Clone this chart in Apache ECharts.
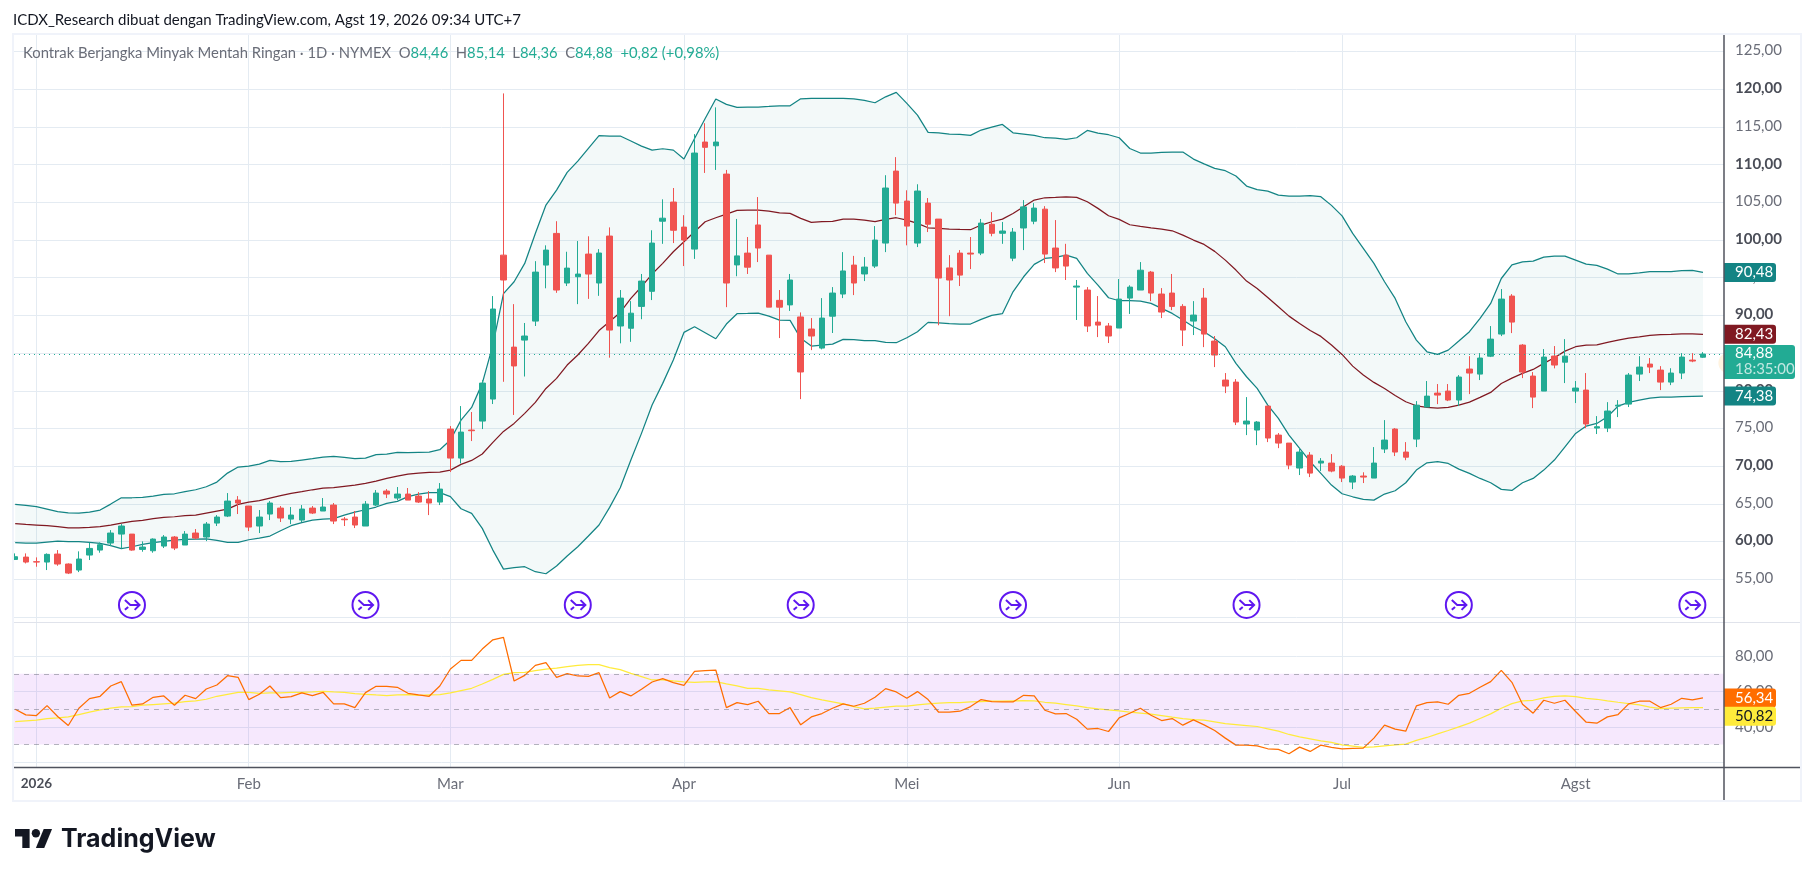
<!DOCTYPE html>
<html><head><meta charset="utf-8">
<style>html,body{margin:0;padding:0;background:#fff}#c{width:1814px;height:877px}</style>
<script src="https://cdn.jsdelivr.net/npm/echarts@6/dist/echarts.min.js"></script>
</head><body><div id="c"></div>
<script>
const FONT = 'Lato, "Noto Sans", sans-serif';
const titleText = 'ICDX_Research dibuat dengan TradingView.com, Agst 19, 2026 09:34 UTC+7';
const symbolName = 'Kontrak Berjangka Minyak Mentah Ringan · 1D · NYMEX';
const monthTickIndex = [2,22,41,63,84,104,125,147];
const monthTickLabels = ['2026','Feb','Mar','Apr','Mei','Jun','Jul','Agst'];
const priceLabels = [55,60,65,70,75,80,85,90,95,100,105,110,115,120,125];
const priceGrid = [50,55,60,65,70,75,80,85,90,95,100,105,110,115,120,125];
const rsiLabels = [40,60,80];
const rsiGrid = [20,40,60,80];
const rollIndex = [11,33,53,74,94,116,136,158];
const rollLevel = 51.6;
const lastPrice = 84.88;
// open, close, low, high
const candles = [
[57.64,58.0,57.56,58.44],[57.95,57.29,57.11,58.44],[57.34,57.29,56.67,57.91],[57.29,58.31,56.23,58.44],[58.35,57.03,56.8,58.88],
[57.03,55.83,55.7,57.11],[56.23,57.69,55.96,58.71],[58.22,59.1,57.56,59.86],[58.88,59.59,58.53,59.9],[59.81,61.14,59.41,61.53],
[61.0,62.07,59.1,62.33],[61.0,58.88,58.79,61.0],[58.97,59.28,58.66,60.03],[58.79,60.34,58.53,60.43],[59.41,60.61,59.15,60.87],
[60.61,59.15,58.88,60.74],[59.55,61,59.55,61.4],[61.14,60.47,60.3,61.67],[60.61,62.33,60.07,62.6],[62.46,63.26,62.07,63.52],
[63.39,65.38,63.26,66.44],[65.51,65.12,63.66,66.04],[64.72,61.93,61.4,64.72],[62.07,63.26,61.14,64.19],[63.66,65.12,62.86,65.38],
[64.45,63.13,62.6,64.72],[62.99,63.52,62.33,64.59],[62.86,64.32,62.6,64.85],[64.45,63.79,63.66,64.72],[64.06,64.59,64.06,65.78],
[64.85,62.73,62.33,65.12],[62.99,62.9,62.07,63.26],[63.26,62.2,61.8,64.06],[62.07,64.98,62.07,65.38],[64.85,66.44,64.72,66.84],
[66.71,66.31,65.78,66.97],[65.78,66.31,65.51,67.24],[66.31,65.51,65.51,67.11],[66.04,65.25,65.12,66.57],[65.65,65.12,63.52,66.71],
[65.25,66.97,64.85,67.77],[74.93,71.08,69.23,75.33],[71.08,74.53,70.38,77.98],[74.8,74.71,73.34,77.19],[75.99,81.03,74.93,81.43],
[78.91,90.85,78.25,92.57],[98.0,94.7,81.2,119.45],[85.8,83.3,76.8,91.5],[86.73,87.27,81.9,89],[89.25,95.75,88.6,97.2],
[96.68,98.67,93.6,99.3],[100.88,93.37,93,102.5],[94.3,96.28,93.9,98.45],[95.14,95.49,91.5,99.87],[98.14,95.49,92.2,100.5],
[94.3,98.28,92.6,98.8],[100.53,88.06,84.4,101.68],[88.6,92.3,86.3,93.37],[88.3,90.3,86.5,91.9],[91.2,94.56,89.5,95.5],
[93.2,99.6,92.04,101.3],[102.5,102.9,99.5,105.4],[105.04,101.3,99.6,106.9],[101.72,100,96.55,103.3],[98.8,111.54,97.5,114.05],
[113,112.3,108.9,115.5],[112.5,113,109.3,117.6],[108.75,94.3,91.1,109.3],[96.7,97.9,95.2,102.8],[98.27,96.4,95.5,100.4],
[102,98.94,97.08,105.7],[98,91.1,91.1,98],[92,91.1,87,93.37],[91.4,94.7,90.6,95.5],[89.8,82.5,78.9,90.4],
[88.2,87.27,85.4,89.65],[85.67,89.65,85.5,92.3],[89.9,92.97,87.67,93.76],[92.84,95.9,92.3,98.4],[96.68,94.3,92.7,97.9],
[95.5,96.42,94.56,97.74],[96.55,100,96.3,101.85],[99.6,106.9,98.4,108.6],[109.15,104.9,103.3,111],[105.17,101.85,99.3,106.6],
[99.6,106.5,99.07,107.4],[104.9,102.1,101.06,105.57],[102.78,94.96,88.7,102.78],[96.3,94.7,89.9,98],[98.27,95.35,93.9,98.67],
[98.27,98.14,96.15,100.4],[98.27,102.25,98,102.8],[102.1,100.9,100.5,103.7],[100.9,101.2,99.5,102.4],[97.6,101.06,97.2,101.6],
[101.6,104.4,98.67,105.3],[102.5,104.24,102.1,104.9],[104.1,98.14,96.95,104.5],[98.94,96.3,95.75,102.65],[98,96.55,94.7,99.5],
[93.76,93.9,89.4,94.7],[93.37,88.6,87.8,93.76],[89.12,88.72,87.13,92.57],[88.6,87.27,86.34,89],[88.33,92.17,88.33,94.83],
[92.3,93.76,90.2,94],[93.37,96,93.37,97.08],[95.75,92.97,91.9,95.9],[92.84,90.45,89.65,93.63],[92.97,91.2,90.7,95.5],
[91.2,88.06,85.94,91.5],[89.25,90.05,87.4,91.9],[92.3,87.53,85.8,93.63],[86.6,84.75,83.15,87.27],[81.43,80.63,79.7,82.36],
[81.16,75.86,75.46,81.56],[75.6,75.99,74.13,79.17],[74.8,75.86,72.8,75.99],[77.98,73.74,73.2,77.98],[74.13,73.07,72.4,74.4],
[73.07,70.15,69.6,73.07],[69.76,71.88,68.83,72.4],[71.48,69.09,68.56,71.88],[70.42,70.68,69.36,71.08],[70.42,69.36,69.2,71.61],
[70,68.43,67.9,70.15],[67.9,68.7,66.97,68.83],[68.7,68.56,67.77,69.2],[68.43,70.42,68.43,72.54],[72.28,73.47,71.75,76.12],
[74.93,71.88,71.35,75.06],[71.88,71.2,70.8,73.2],[73.6,78.1,72.54,78.64],[77.85,79.3,77.85,81.3],[79.7,79.44,78.24,80.9],
[79.97,78.78,78.64,80.9],[78.78,81.83,77.98,82.09],[82.89,82.36,79.57,84.6],[82.22,84.35,81.43,85],[84.6,86.86,84.48,88.59],
[87.53,92.17,87.26,93.5],[92.57,89.12,87.66,92.83],[86.07,82.49,81.69,86.2],[81.96,79.17,77.71,82.49],[79.97,84.48,79.97,85.54],
[84.61,83.42,82.98,85.94],[83.8,84.6,81.03,86.86],[79.97,80.37,78.38,81.3],[80.1,75.6,75.06,82.36],[75.06,75.24,74.27,76.65],
[75.06,77.32,74.53,78.5],[77.98,78.1,76.52,78.77],[78.24,82.09,77.85,82.36],[82.22,83.15,81.3,84.6],[83.55,83.15,82.36,84.35],
[82.75,81.16,80.1,83.28],[81.16,82.36,80.76,83],[82.36,84.48,81.56,85],[84.08,83.95,83.8,85],[84.46,84.88,84.36,85.14]
];
const upperBand = [64.94,64.81,64.63,64.32,63.97,63.83,63.79,63.92,64.19,64.98,65.82,65.82,65.87,66.04,66.27,66.35,66.62,66.88,67.28,67.9,69.09,69.89,70.02,70.29,70.77,70.6,70.64,70.82,71,71.22,71.31,71.17,71,71.08,71.53,71.62,71.84,71.79,71.84,71.88,72.19,73.47,76.12,77.8,80.99,86.07,92.9,94.47,96.9,100.88,104.64,106.63,108.97,110.47,112.16,113.84,113.8,113.8,113.13,112.46,111.93,112.11,111.93,110.74,113.48,116.13,118.7,117.99,117.59,117.64,117.64,117.72,117.81,117.81,118.74,118.79,118.79,118.79,118.79,118.74,118.52,118.21,119,119.58,118.12,116.58,114.28,114.23,114.06,114.01,113.88,114.59,114.98,115.34,114.23,114.06,113.88,113.57,113.52,113.35,113.57,114.54,114.19,113.97,113.57,112.15,111.54,111.54,111.62,111.67,111.67,110.74,110.1,109.5,109.2,108.5,107.16,106.7,106.5,105.97,105.84,105.84,105.9,105.75,104.6,103.2,100.88,98.9,96.9,94.47,92.26,89.16,86.73,85.18,84.83,85.4,86.6,87.84,89.6,91.6,94.9,96.7,97.1,97.2,97.74,97.87,97.87,97.34,96.8,96.63,96.15,95.5,95.53,95.66,95.8,95.8,95.8,95.93,95.97,95.7];
const middleBand = [62.4,62.29,62.2,62.11,61.98,61.84,61.84,61.89,61.98,62.2,62.46,62.68,62.82,63.04,63.22,63.3,63.44,63.52,63.79,64.06,64.32,64.94,65.25,65.43,65.78,66.09,66.4,66.62,66.88,67.11,67.15,67.33,67.5,67.72,68.03,68.39,68.7,68.96,69.09,69.18,69.23,69.49,70.24,70.77,71.62,73.16,74.62,75.68,77.01,78.47,80.32,81.65,83.42,84.75,86.29,88.0,89.2,90.4,92.26,93.81,95.49,96.9,98.45,99.78,101.1,102.43,102.96,103.45,103.93,103.98,103.98,103.84,103.62,103.53,102.87,102.34,102.43,102.47,102.78,102.78,102.65,102.43,102.74,102.96,102.65,102.21,101.63,101.54,101.46,101.41,101.37,101.99,102.43,102.78,103.53,104.42,105.3,105.61,105.66,105.74,105.66,105.08,104.2,103.22,102.74,102.03,101.81,101.63,101.46,101.23,100.66,100,99.42,98.5,97.34,96.02,94.56,93.58,92.39,91.15,89.91,88.94,88.01,87.22,86.07,84.83,83.28,82.09,81.12,80.32,79.39,78.55,78.02,77.8,77.71,77.8,78.11,78.51,79.13,79.79,80.98,81.69,82.31,82.84,83.64,84.39,85.27,85.85,86.07,86.11,86.42,86.73,87,87.17,87.35,87.44,87.48,87.57,87.57,87.48];
const lowerBand = [59.86,59.81,59.81,59.94,60.07,59.99,59.99,59.9,59.77,59.46,59.06,59.32,59.63,59.86,60.03,60.21,60.3,60.34,60.38,60.17,59.9,59.9,60.25,60.47,60.74,61.45,62.11,62.51,62.86,62.99,63.04,63.52,63.92,64.23,64.59,65.07,65.34,65.96,66.31,66.49,66.49,65.96,64.36,63.75,61.76,58.88,56.36,56.54,56.67,56.01,55.74,56.76,58.09,59.32,60.74,62.2,64.54,67.15,70.82,74.36,78.11,80.99,84.08,87.75,88.5,87.71,86.91,88.86,90.23,90.27,90.32,89.92,89.39,89.34,86.96,85.94,86.07,86.2,86.82,86.78,86.65,86.65,86.43,86.38,87.04,87.84,89.08,89.03,88.9,88.86,88.86,89.48,90.01,90.23,93.14,95.13,96.77,97.56,97.7,98.01,97.56,95.58,94.03,92.35,91.95,91.95,91.91,91.6,90.93,90.27,89.39,88.5,87.84,86.9,85.85,83.64,81.87,80.32,78.11,76.34,74.13,72.36,70.6,69.05,67.5,66.35,65.95,65.6,65.51,66.31,66.75,67.81,69.49,70.46,70.6,70.37,69.62,69.05,68.38,67.81,66.93,66.79,67.81,68.38,69.49,70.82,72.58,74.35,75.33,75.68,76.56,77.98,78.46,78.77,79.04,79.17,79.17,79.22,79.26,79.3];
const rsiLine = [49.94,46.74,46.36,52.0,45.8,40.71,50.5,55.96,57.28,63.12,65.57,52.2,52.95,56.72,57.47,52.2,57.85,55.96,61.42,63.68,68.96,68.01,55.4,58.41,63.12,56.53,57.09,59.16,57.66,59.54,52.95,52.95,50.88,59.35,62.93,62.93,62.37,58.98,58.03,57.28,63.12,72.72,77.62,77.62,84.02,89.29,90.61,65.94,69.14,74.79,76.3,68.01,70.09,68.77,68.58,70.65,56.34,59.92,57.47,61.24,65.38,67.26,65,63.5,71.4,71.78,72.16,50.88,53.7,52.57,54.46,47.49,47.49,50.88,41.09,45.6,47.49,50.5,52.95,51.63,53.33,56.72,61.61,59.73,56.15,59.92,55.4,48.24,48.24,48.81,51.44,55.4,54.27,54.08,54.08,57.85,57.47,49.37,47.3,47.49,44.29,38.64,39.02,37.32,45.04,47.68,50.5,46.55,43.53,44.66,40.9,43.91,41.09,37.89,33.56,29.6,29.6,29.22,27.53,27.15,24.7,28.47,26.02,29.6,28.28,27.53,27.72,27.91,33.56,40.9,38.64,37.51,51.82,53.7,54.08,52.76,57.85,58.98,62.37,65.57,71.97,65.19,52.76,47.68,55.02,53.33,55.02,48.62,42.59,42.03,45.6,46.92,52.95,54.46,54.46,50.88,52.76,56.15,55.21,56.34];
const rsiAverage = [42.97,43.35,43.72,44.66,45.04,45.6,46.92,48.24,49.56,50.5,51.26,51.44,52.2,52.57,52.95,53.33,54.27,54.65,55.59,57.28,58.41,59.54,59.54,58.98,59.16,59.16,59.54,59.54,59.73,60.11,59.73,59.54,58.79,58.41,58.03,57.66,58.03,58.22,57.85,58.03,58.22,59.16,60.48,61.8,64.25,66.88,69.71,70.65,70.84,71.78,72.72,73.29,74.04,74.79,75.17,75.17,73.47,72.35,70.27,68.39,66.51,66.51,65.94,65.38,65.19,65.38,65.57,64.25,63.12,61.8,61.8,60.86,60.29,59.73,58.22,56.53,55.21,54.08,52.95,51.44,50.13,50.5,51.07,51.63,51.63,52.39,52.95,53.33,53.7,53.7,54.08,54.27,54.46,54.46,54.65,54.83,54.65,53.89,53.33,52.57,51.82,50.88,50.13,49.56,49,48.24,47.68,47.11,46.36,45.42,44.66,44.1,43.72,42.78,41.84,41.28,40.71,40.15,38.83,37.51,35.63,34.31,33.18,32.05,31.11,29.79,29.04,28.28,28.66,29.22,29.79,30.17,32.24,33.93,36,37.89,39.96,42.03,44.66,47.3,50.5,53.14,54.65,55.02,56.34,57.28,57.47,57.09,56.15,55.59,54.65,53.89,53.14,52.39,51.07,50.31,50.5,50.69,50.88,50.82];
const bandTags = [['90,48',95.7],['82,43',87.5],['74,38',79.3]];
const lastTag = ['84,88','18:35:00'];
const rsiTags = [['56,34',56.34],['50,82',50.82]];

const XMIN = -0.113, XMAX = 160.98;
const GRID = '#e4ebf2', AXIS = '#50535e', LBL = '#6a6d78', LBLB = '#4a4d57';
const UP = '#22ab94', DOWN = '#f05350', TEAL = '#138484', MAROON = '#801922', ORANGE = '#ff6d00', YELLOW = '#ffeb3b';
const comma = v => v.toFixed(2).replace('.', ',');
const indexed = a => a.map((v,i) => [i,v]);
const ICON = 'path://M13 1a12 12 0 1 0 0.01 0z M6.5 8.5 L11.5 13 H20 M15.5 8.5 L20 13 L15.5 17.5 M6.5 17.5 L9.5 14.8';
const LW = 1.25;

function tag(api, val, text, bg, fg, h, dy, w) {
  const p = api.coord([XMAX, val]);
  const x = Math.round(p[0]), y = p[1] + dy;
  return {type:'group', children:[
    {type:'rect', shape:{x, y:y-h/2, width:w, height:h, r:[0,3,3,0]}, style:{fill:bg}},
    {type:'text', x:x+11, y:y, style:{text, fill:fg, font:`15px ${FONT}`, verticalAlign:'middle', textVerticalAlign:'middle'}}
  ]};
}

const glow = [];
for (let a = 118; a <= 242; a += 4) glow.push([1729 + 10.6*Math.cos(a*Math.PI/180), 363 + 10.6*Math.sin(a*Math.PI/180)]);

const chart = echarts.init(document.getElementById('c'), null, {renderer:'canvas'});
const xAxisCommon = {
  type:'value', min:XMIN, max:XMAX, axisLine:{show:false},
  axisTick:{show:false, customValues:monthTickIndex},
  splitLine:{show:true, lineStyle:{color:GRID, width:1}}
};
chart.setOption({
  animation:false,
  backgroundColor:'#fff',
  textStyle:{fontFamily:FONT},
  grid:[
    {left:14, top:34, width:1710, height:588, show:false},
    {left:14, top:623, width:1710, height:144, show:false}
  ],
  xAxis:[
    Object.assign({}, xAxisCommon, {gridIndex:0, axisLabel:{show:false}}),
    Object.assign({}, xAxisCommon, {gridIndex:1, axisLabel:{
      show:true, customValues:monthTickIndex, margin:10, fontSize:15, color:LBL, fontFamily:FONT,
      formatter:v => { const k = monthTickLabels[monthTickIndex.indexOf(v)]; return k === '2026' ? '{b|2026}' : k; },
      rich:{b:{fontWeight:'bold', fontSize:13.5, color:LBLB, fontFamily:FONT}}
    }})
  ],
  yAxis:[
    {type:'value', gridIndex:0, position:'right', min:49.34, max:127.33, axisLine:{show:false},
     axisTick:{show:false, customValues:priceGrid},
     splitLine:{show:true, lineStyle:{color:GRID, width:1}},
     axisLabel:{show:true, customValues:priceLabels, margin:11, fontSize:15, color:LBL, fontFamily:FONT, padding:[0,0,2,0],
       formatter:v => v % 10 === 0 ? `{b|${comma(v)}}` : comma(v),
       rich:{b:{fontWeight:'bold', fontSize:15, color:LBLB, fontFamily:FONT}}}},
    {type:'value', gridIndex:1, position:'right', min:17.2, max:98.8, axisLine:{show:false},
     axisTick:{show:false, customValues:rsiGrid},
     splitLine:{show:true, lineStyle:{color:GRID, width:1}},
     axisLabel:{show:true, customValues:rsiLabels, margin:11, fontSize:15, color:LBL, fontFamily:FONT, padding:[0,0,2,0], formatter:v => comma(v)}}
  ],
  series:[
    {type:'custom', name:'band fill', xAxisIndex:0, yAxisIndex:0, clip:true, z:1, silent:true, data:[0],
     renderItem:(p,api) => ({type:'polygon', shape:{points:[
       ...upperBand.map((v,i) => api.coord([i,v])),
       ...lowerBand.map((v,i) => api.coord([i,v])).reverse()]},
       style:{fill:'rgba(19,132,132,0.05)'}})},
    {type:'line', name:'Upper', xAxisIndex:0, yAxisIndex:0, data:indexed(upperBand), symbol:'none', z:2, lineStyle:{color:TEAL, width:LW}},
    {type:'line', name:'Lower', xAxisIndex:0, yAxisIndex:0, data:indexed(lowerBand), symbol:'none', z:2, lineStyle:{color:TEAL, width:LW}},
    {type:'line', name:'Basis', xAxisIndex:0, yAxisIndex:0, data:indexed(middleBand), symbol:'none', z:2, lineStyle:{color:MAROON, width:LW}},
    {type:'candlestick', name:'CL1!', xAxisIndex:0, yAxisIndex:0, z:3, barWidth:6,
     encode:{x:0, y:[1,2,3,4]},
     data:candles.map((c,i) => [i,...c]),
     itemStyle:{color:UP, color0:DOWN, borderColor:UP, borderColor0:DOWN, borderWidth:1},
     markLine:{silent:true, symbol:'none', label:{show:false}, lineStyle:{color:UP, type:[1,4], width:1}, data:[{yAxis:lastPrice}]}},
    {type:'scatter', name:'rollover', xAxisIndex:0, yAxisIndex:0, z:4, symbol:ICON, symbolSize:26,
     data:rollIndex.map(i => [i, rollLevel]),
     itemStyle:{color:'rgba(255,255,255,0)', borderColor:'#5f17f0', borderWidth:2, opacity:1}},
    {type:'line', name:'RSI', xAxisIndex:1, yAxisIndex:1, data:indexed(rsiLine), symbol:'none', z:3, lineStyle:{color:ORANGE, width:LW},
     markArea:{silent:true, itemStyle:{color:'rgba(170,30,240,0.1)'}, data:[[{yAxis:70},{yAxis:30}]]},
     markLine:{silent:true, symbol:'none', label:{show:false}, lineStyle:{color:'rgba(120,123,134,0.55)', type:[5,5], width:1},
       data:[{yAxis:70},{yAxis:50},{yAxis:30}]}},
    {type:'line', name:'RSI MA', xAxisIndex:1, yAxisIndex:1, data:indexed(rsiAverage), symbol:'none', z:2, lineStyle:{color:YELLOW, width:LW}},
    {type:'custom', name:'price tags', xAxisIndex:0, yAxisIndex:0, clip:false, z:20, silent:true, data:[0],
     renderItem:(p,api) => ({type:'group', children:[
       tag(api, bandTags[0][1], bandTags[0][0], TEAL, '#fff', 19, 0, 52),
       tag(api, bandTags[1][1], bandTags[1][0], MAROON, '#fff', 19, 0, 52),
       tag(api, bandTags[2][1], bandTags[2][0], TEAL, '#fff', 19, 0, 52),
       (() => { const q = api.coord([XMAX, lastPrice]); const x = Math.round(q[0]), y = q[1];
         return {type:'group', children:[
           {type:'rect', shape:{x, y:y-9, width:71, height:34, r:[0,3,3,0]}, style:{fill:UP}},
           {type:'text', x:x+11, y:y-1, style:{text:lastTag[0], fill:'#fff', font:`15px ${FONT}`, verticalAlign:'middle'}},
           {type:'text', x:x+11, y:y+15, style:{text:lastTag[1], fill:'rgba(255,255,255,0.72)', font:`15px ${FONT}`, verticalAlign:'middle'}}
         ]}; })()
     ]})},
    {type:'custom', name:'rsi tags', xAxisIndex:1, yAxisIndex:1, clip:false, z:20, silent:true, data:[0],
     renderItem:(p,api) => ({type:'group', children:[
       tag(api, rsiTags[0][1], rsiTags[0][0], ORANGE, '#fff', 19, 0, 52),
       tag(api, rsiTags[1][1], rsiTags[1][0], YELLOW, '#131722', 19, 8.5, 52)
     ]})}
  ],
  graphic:[
    {type:'text', x:13, y:20, z:30, style:{text:titleText, fill:'#131722', font:`15px ${FONT}`, verticalAlign:'middle'}},
    {type:'rect', z:30, shape:{x:13, y:34, width:1788, height:767}, style:{fill:'none', stroke:'#f0f3fa', lineWidth:2}},
    {type:'rect', z:-1, shape:{x:13, y:622, width:1788, height:1}, style:{fill:'#e0e3eb'}},
    {type:'line', z:25, shape:{x1:1724, y1:34, x2:1724, y2:801}, style:{stroke:AXIS, lineWidth:1.5}},
    {type:'line', z:25, shape:{x1:14, y1:767.5, x2:1801, y2:767.5}, style:{stroke:AXIS, lineWidth:1.5}},
    {type:'polygon', z:1, shape:{points:glow}, style:{fill:'#fff3e0'}},
    {type:'text', x:23, y:53, z:30, style:{font:`14.8px ${FONT}`, verticalAlign:'middle',
      text:`{n|${symbolName}}  {n|O}{v|84,46}  {n|H}{v|85,14}  {n|L}{v|84,36}  {n|C}{v|84,88}  {v|+0,82 (+0,98%)}`,
      rich:{n:{fill:'#6a6d78', font:`14.8px ${FONT}`}, v:{fill:UP, font:`14.8px ${FONT}`}}}},
    {type:'group', x:15, y:824.8, scaleX:1.044, scaleY:1.055, z:30, children:[
      {type:'polygon', shape:{points:[[14,22],[7,22],[7,11],[0,11],[0,4],[14,4]]}, style:{fill:'#131722'}},
      {type:'polygon', shape:{points:[[28,22],[20,22],[27.5,4],[35.5,4]]}, style:{fill:'#131722'}},
      {type:'circle', shape:{cx:20, cy:8, r:4}, style:{fill:'#131722'}}
    ]},
    {type:'text', x:61, y:839, z:30, style:{text:'TradingView', fill:'#131722', font:`700 25px Inter, ${FONT}`, verticalAlign:'middle'}}
  ]
});
</script></body></html>
